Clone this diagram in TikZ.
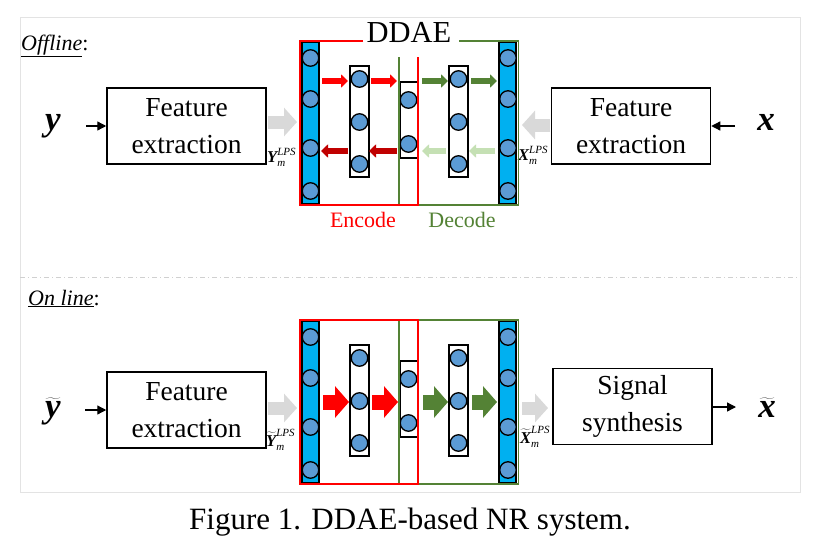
\documentclass[tikz,border=0pt]{standalone}
\usepackage{fix-cm}
\usepackage{fontspec}
\setmainfont{Liberation Serif}
\usetikzlibrary{arrows.meta}
\definecolor{barblue}{HTML}{00B0F0}
\definecolor{nodeblue}{HTML}{5B9BD5}
\definecolor{ddred}{HTML}{FF0000}
\definecolor{dkred}{HTML}{C00000}
\definecolor{ddgreen}{HTML}{548235}
\definecolor{ltgreen}{HTML}{C5E0B4}
\definecolor{arrgray}{HTML}{D9D9D9}
\definecolor{framegray}{HTML}{E3E3E3}
\definecolor{sepgray}{HTML}{D0D0D0}
\newcommand\bitext[1]{\hbox{\bfseries\itshape #1}}
\newcommand\lpslab[1]{{\fontsize{16.5}{16.5}\selectfont$#1^{\hbox{\fontsize{11}{11}\selectfont\itshape LPS}}_{\hbox{\fontsize{11}{11}\selectfont\itshape m}}$}}
\begin{document}
\begin{tikzpicture}[x=1pt,y=-1pt,
  box/.style={draw, line width=1.5, minimum width=159, minimum height=76, align=center,
    font=\fontsize{27.5}{37}\selectfont, inner sep=0},
  varlab/.style={font=\fontsize{35}{35}\selectfont, inner sep=0, anchor=base},
  lpsnode/.style={inner sep=0, anchor=base west},
  bar/.style={draw=black, fill=barblue, line width=2, inner sep=0},
  layer/.style={draw=black, fill=white, line width=2, inner sep=0},
  nc/.style={circle, draw=black, fill=nodeblue, line width=1.3, minimum size=16.5, inner sep=0},
  smallarr/.style={line width=6, -{Triangle[length=7pt,width=13pt]}},
  bigarr/.style={line width=15, -{Triangle[length=14pt,width=31pt]}},
  grayarr/.style={draw=arrgray, line width=13, -{Triangle[length=13pt,width=28pt]}},
  inarr/.style={line width=1.3, -{Triangle[length=9pt,width=9pt]}},
  redline/.style={draw=ddred, line width=2},
  greenline/.style={draw=ddgreen, line width=1.6},
  sectlab/.style={font=\fontsize{22}{22}\selectfont, inner sep=0, anchor=base west}
]
\useasboundingbox (0,0) rectangle (816,546);
\fill[white] (0,0) rectangle (816,546);
\draw[framegray, line width=1] (20,17) rectangle (800,492);
\draw[sepgray, line width=1, dash pattern=on 5pt off 3pt on 1pt off 3pt] (20,277) -- (800,277);

\node[sectlab] (offl) at (21,50) {\underline{\textit{Offline}}:};
\node[sectlab] (onl) at (28,305) {\underline{\textit{On line}}:};

% feature boxes
\node[box] (fe1) at (186.5,126) {Feature\\extraction};
\node[box] (fe2) at (631,126) {Feature\\extraction};
\node[box] (fe3) at (186.5,410) {Feature\\extraction};
\node[box] (ss) at (632.5,406.5) {Signal\\synthesis};

\node[varlab] (yin) at (53,130) {\bitext{y}};
\node[varlab] (xin) at (766,130) {\bitext{x}};
\node[varlab] (ytin) at (53,417) {$\widetilde{\bitext{y}}$};
\node[varlab] (xtout) at (767,417) {$\widetilde{\bitext{x}}$};

\coordinate (yst) at (86,126);
\coordinate (xst) at (735,126);
\coordinate (ytst) at (85,410);
\coordinate (xtend) at (736,407);
\draw[inarr] (yst) -- (fe1.west |- yst);
\draw[inarr] (xst) -- (fe2.east |- xst);
\draw[inarr] (ytst) -- (fe3.west |- ytst);
\draw[inarr] (ss.east |- xtend) -- (xtend);

% gray arrows
\coordinate (g1a) at (268,122); \coordinate (g1b) at (297,122);
\coordinate (g2a) at (550,125); \coordinate (g2b) at (522,125);
\coordinate (g3a) at (268,408); \coordinate (g3b) at (297,408);
\coordinate (g4a) at (522,408); \coordinate (g4b) at (548,408);
\draw[grayarr] (g1a) -- (g1b);
\draw[grayarr] (g2a) -- (g2b);
\draw[grayarr] (g3a) -- (g3b);
\draw[grayarr] (g4a) -- (g4b);

\node[lpsnode] (ylab) at (267,162) {\lpslab{\bitext{Y}}};
\node[lpsnode] (xlab) at (518,160) {\lpslab{\bitext{X}}};
\node[lpsnode] (ytlab) at (266,446) {\lpslab{\widetilde{\bitext{Y}}}};
\node[lpsnode] (xtlab) at (520,443) {\lpslab{\widetilde{\bitext{X}}}};

% network layers (both panels)
\foreach \o/\s in {0/a,279/b}{
  \begin{scope}[shift={(0,\o)}]
    \node[bar, minimum width=17, minimum height=162] (barL\s) at (310.5,123) {};
    \node[bar, minimum width=17, minimum height=162] (barR\s) at (507.5,123) {};
    \node[layer, minimum width=19, minimum height=111] (hA\s) at (359.5,121.5) {};
    \node[layer, minimum width=18, minimum height=76] (hB\s) at (409,120) {};
    \node[layer, minimum width=19, minimum height=111] (hC\s) at (458.5,121.5) {};
    \foreach \yy/\k in {58/1,99/2,148/3,191/4}{
      \node[nc] (cL\s\k) at (310.5,\yy) {};
      \node[nc] (cR\s\k) at (508,\yy) {};
    }
    \foreach \yy/\k in {79/1,122/2,164/3}{
      \node[nc] (cA\s\k) at (359.5,\yy) {};
      \node[nc] (cC\s\k) at (458.5,\yy) {};
    }
    \foreach \yy/\k in {100/1,144/2}{
      \node[nc] (cB\s\k) at (408.5,\yy) {};
    }
  \end{scope}
}

% top panel arrows
\draw[smallarr, ddred] (322,81) -- (348,81);
\draw[smallarr, ddred] (371,81) -- (397,81);
\draw[smallarr, ddgreen] (422,81) -- (448,81);
\draw[smallarr, ddgreen] (471,81) -- (497,81);
\draw[smallarr, dkred] (348,151) -- (321,151);
\draw[smallarr, dkred] (397,151) -- (369,151);
\draw[smallarr, ltgreen] (495,151) -- (469,151);
\draw[smallarr, ltgreen] (446,151) -- (422,151);

% bottom panel arrows
\draw[bigarr, ddred] (323,402) -- (349,402);
\draw[bigarr, ddred] (372,402) -- (398,402);
\draw[bigarr, ddgreen] (423,402) -- (448,402);
\draw[bigarr, ddgreen] (472,402) -- (497,402);

% frames top panel
\draw[greenline] (459,41) -- (518.5,41) -- (518.5,205) -- (399,205) -- (399,57);
\draw[redline] (363,41) -- (299.5,41) -- (299.5,205) -- (418,205) -- (418,57);
% frames bottom panel
\draw[greenline] (399,320) rectangle (518.5,484);
\draw[redline] (299.5,320) rectangle (418,484);

\node[inner sep=0, anchor=base, font=\fontsize{30.5}{30.5}\selectfont] (ddae) at (409,42) {DDAE};
\node[inner sep=0, anchor=base, font=\fontsize{22}{22}\selectfont, text=ddred] (enc) at (363,227) {Encode};
\node[inner sep=0, anchor=base, font=\fontsize{22}{22}\selectfont, text=ddgreen] (dec) at (462,227) {Decode};

\node[inner sep=0, anchor=base, font=\fontsize{31}{31}\selectfont] (cap) at (410,529) {Figure 1. DDAE-based NR system.};
\end{tikzpicture}
\end{document}
